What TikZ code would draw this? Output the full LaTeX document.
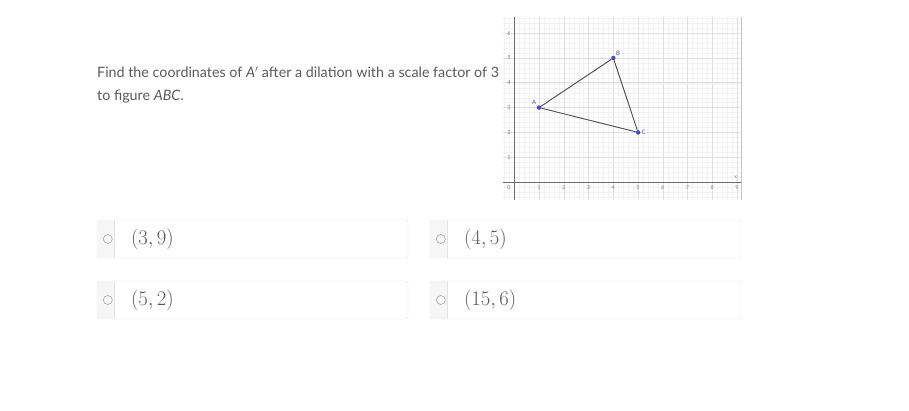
\documentclass[tikz,border=0pt]{standalone}
\usepackage{fontspec}
\setmainfont{Lato}
\usepackage{amsmath}
\usepackage{tikz}
\usetikzlibrary{positioning}
\definecolor{qtext}{HTML}{5A5A5A}
\definecolor{boxline}{HTML}{E3E3E3}
\definecolor{strip}{HTML}{F6F6F6}
\definecolor{pt}{HTML}{4B4BC8}

\begin{document}
\begin{tikzpicture}[x=1pt,y=-1pt,
	choice/.style={draw=boxline, rounded corners=2pt, minimum width=311pt, minimum height=38pt, inner sep=0pt},
	radio/.style={circle, draw=gray!70, line width=0.6pt, minimum size=9pt, inner sep=0pt},
	answer/.style={text=qtext, font=\fontsize{20.5}{22}\selectfont, anchor=west, inner sep=0pt},
	question/.style={anchor=base west, text=qtext, font=\fontsize{14.3}{18}\selectfont, inner sep=0pt},
	tick/.style={text=gray, font=\fontsize{5.5}{6}\selectfont, inner sep=0pt},
	vertex/.style={circle, fill=pt, inner sep=0pt, minimum size=4.5pt}]
	
	\useasboundingbox (0,0) rectangle (909,411);
	\fill[white] (0,0) rectangle (909,411);
	
	% question
	\node[question] (line1) at (97,78) {Find the coordinates of \textit{A}$'$ after a dilation with a scale factor of 3};
	\node[question] (line2) at (97,101) {to figure \textit{ABC}.};
	
	% graph
	\begin{scope}[shift={(514.3,182)}, x=24.75pt, y=24.8pt]
		\draw[gray!10, line width=0.3pt, step=0.2] (-0.46,-0.73) grid (9.16,6.65);
		\draw[gray!25, line width=0.6pt, step=1] (-0.46,-0.73) grid (9.16,6.65);
		\draw[gray!45, line width=0.6pt] (9.16,-0.73) -- (9.16,6.65);
		\draw[gray!85!black, line width=0.7pt] (-0.46,0) -- (9.16,0);
		\draw[gray!85!black, line width=0.7pt] (0,-0.73) -- (0,6.65);
		\node[tick] (o) at (-0.22,-0.22) {0};
		\foreach \i in {1,...,9}
			\node[tick] (x\i) at (\i,-0.22) {\i};
		\foreach \j in {1,...,6}
			\node[tick] (y\j) at (-0.22,\j) {\j};
		\node[tick] (xlab) at (8.95,0.2) {x};
		
		\node[vertex, label={[text=pt, font=\fontsize{6}{7}\selectfont, inner sep=1pt]above left:A}] (A) at (1,3) {};
		\node[vertex, label={[text=pt, font=\fontsize{6}{7}\selectfont, inner sep=1pt]above right:B}] (B) at (4,5) {};
		\node[vertex, label={[text=pt, font=\fontsize{6}{7}\selectfont, inner sep=1pt]right:C}] (C) at (5,2) {};
		\draw[gray!60!black, line width=0.9pt] (A) -- (B) -- (C) -- (A);
	\end{scope}
	
	% choices
	\foreach \n/\x/\y/\val in {a/252.5/239/{(3,9)}, b/585.5/239/{(4,5)}, c/252.5/300/{(5,2)}, d/585.5/300/{(15,6)}} {
		\node[choice] (box\n) at (\x,\y) {};
		\fill[strip, rounded corners=2pt] ([xshift=0.5pt,yshift=-0.5pt]box\n.north west) rectangle ([xshift=17pt,yshift=0.5pt]box\n.south west);
		\draw[boxline] ([xshift=17pt]box\n.north west) -- ([xshift=17pt]box\n.south west);
		\node[radio] (radio\n) at ([xshift=11pt]box\n.west) {};
		\node[answer] (ans\n) at ([xshift=34pt]box\n.west) {$\val$};
	}
\end{tikzpicture}
\end{document}
